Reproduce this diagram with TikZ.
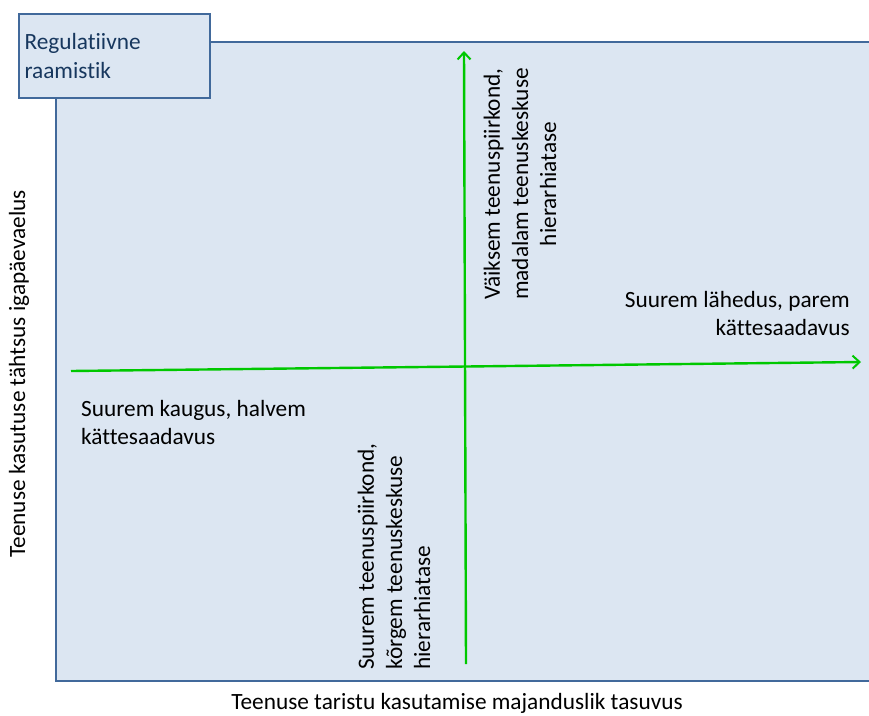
\documentclass[tikz,border=0pt]{standalone}
\usepackage{fontspec}
\setmainfont{Carlito}[Ligatures=NoCommon]
\usepackage{tikz}
\usetikzlibrary{arrows.meta,positioning}
\definecolor{panelfill}{HTML}{DCE6F2}
\definecolor{panelline}{HTML}{41699B}
\definecolor{axisgreen}{HTML}{00C800}
\definecolor{labeltext}{HTML}{17375E}
\tikzset{
  axisarrow/.style={draw=axisgreen,line width=2.4pt,-{Straight Barb[length=7pt,width=13pt,line width=2pt]}},
  quadtext/.style={font=\fontsize{23.3}{28.2}\selectfont,inner sep=0pt},
}
\begin{document}
\begin{tikzpicture}[x=1pt,y=-1pt]
  \useasboundingbox (0,0) rectangle (869,715);
  % panel
  \fill[panelfill] (56,42) rectangle (869,681);
  \draw[panelline,line width=2pt] (869,42) -- (56,42) -- (56,681) -- (869,681);
  \node[draw=panelline,line width=2pt,fill=panelfill,minimum width=191pt,minimum height=84pt,
        anchor=north west,align=left,text width=180pt,text=labeltext,quadtext] (frame) at (18,13)
        {Regulatiivne\\raamistik};
  % axes
  \coordinate (hstart) at (71,371);
  \coordinate (hend) at (861,362);
  \coordinate (vstart) at (466,664);
  \coordinate (vend) at (464,51);
  \draw[axisarrow] (hstart) -- (hend);
  \draw[axisarrow] (vstart) -- (vend);
  % quadrant texts
  \node[quadtext,rotate=90,align=center] (small) at (520,184)
    {Väiksem teenuspiirkond,\\madalam teenuskeskuse\\hierarhiatase};
  \node[quadtext,rotate=90,align=left,anchor=west] (large) at (394,670)
    {Suurem teenuspiirkond,\\kõrgem teenuskeskuse\\hierarhiatase};
  \node[quadtext,align=right,anchor=north east] (near) at (850,291)
    {Suurem lähedus, parem\\kättesaadavus};
  \node[quadtext,align=left,anchor=north west] (far) at (81,400)
    {Suurem kaugus, halvem\\kättesaadavus};
  % axis labels
  \node[quadtext,rotate=90] (ylab) at (19,374) {Teenuse kasutuse tähtsus igapäevaelus};
  \node[quadtext] (xlab) at (457,703) {Teenuse taristu kasutamise majanduslik tasuvus};
\end{tikzpicture}
\end{document}
